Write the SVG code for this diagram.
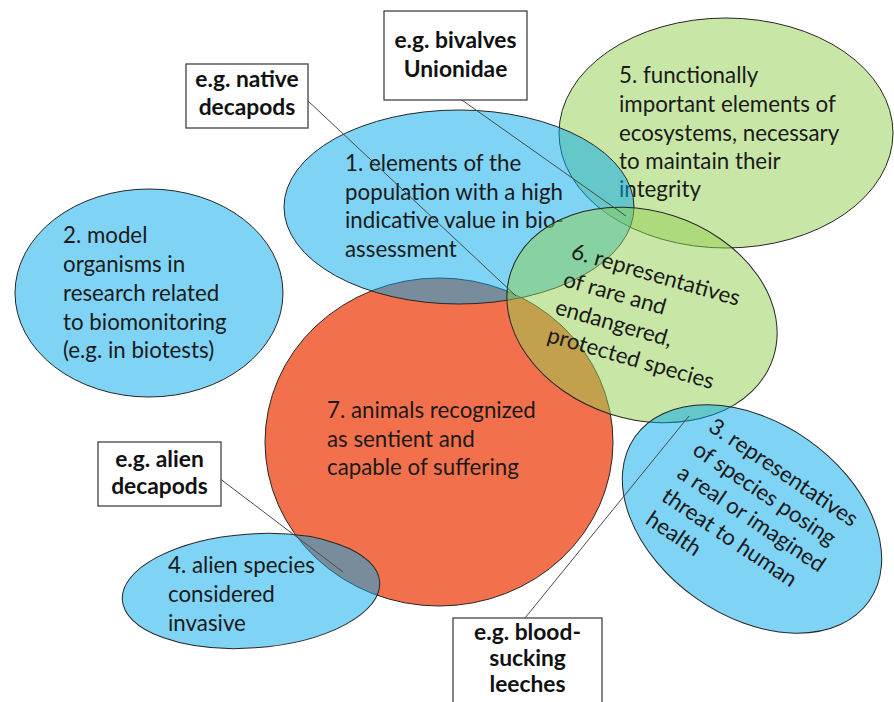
<svg xmlns="http://www.w3.org/2000/svg" width="894" height="702" viewBox="0 0 894 702">
  <style>
    .lbl { font-family: Lato, "Open Sans", "Liberation Sans", sans-serif; font-size: 22.3px; fill: #1a1a1a; }
    .box { font-family: Lato, "Open Sans", "Liberation Sans", sans-serif; font-size: 22.8px; font-weight: bold; fill: #111; text-anchor: middle; }
    .blue { fill: #00a8ec; fill-opacity: 0.5; stroke: #262626; stroke-width: 1; }
    .green { fill: #92d050; fill-opacity: 0.5; stroke: #262626; stroke-width: 1; }
    .red { fill: #f3704c; stroke: #262626; stroke-width: 1; }
    .note { fill: #ffffff; stroke: #333333; stroke-width: 1.2; }
    .link { stroke: #4a4a4a; stroke-width: 1; fill: none; }
  </style>
  <rect width="894" height="702" fill="#ffffff"/>

  <!-- 7: sentient animals -->
  <g id="set7">
    <ellipse class="red" cx="439" cy="442" rx="174" ry="164"/>
    <text class="lbl"><tspan x="327" y="418">7. animals recognized</tspan><tspan x="327" y="447">as sentient and</tspan><tspan x="327" y="475">capable of suffering</tspan></text>
  </g>

  <!-- 2: model organisms -->
  <g id="set2">
    <ellipse class="blue" cx="149" cy="293" rx="134" ry="104"/>
    <text class="lbl"><tspan x="63" y="243">2. model</tspan><tspan x="63" y="272">organisms in</tspan><tspan x="63" y="301">research related</tspan><tspan x="63" y="330">to biomonitoring</tspan><tspan x="63" y="358">(e.g. in biotests)</tspan></text>
  </g>

  <!-- 5: functionally important elements -->
  <g id="set5">
    <ellipse class="green" cx="726" cy="133" rx="167" ry="115"/>
    <text class="lbl"><tspan x="619" y="83">5. functionally</tspan><tspan x="619" y="112">important elements of</tspan><tspan x="619" y="141">ecosystems, necessary</tspan><tspan x="619" y="169">to maintain their</tspan><tspan x="619" y="197">integrity</tspan></text>
  </g>

  <!-- 1: indicative value -->
  <g id="set1">
    <ellipse class="blue" cx="459" cy="207" rx="175" ry="97"/>
    <text class="lbl"><tspan x="345" y="171">1. elements of the</tspan><tspan x="345" y="200">population with a high</tspan><tspan x="345" y="228">indicative value in bio-</tspan><tspan x="345" y="257">assessment</tspan></text>
  </g>

  <!-- 6: rare and protected species -->
  <g id="set6">
    <ellipse class="green" cx="0" cy="0" rx="138" ry="104" transform="translate(642 315) rotate(18)"/>
    <text class="lbl" transform="translate(570 258) rotate(16)"><tspan x="0" y="0">6. representatives</tspan><tspan x="0" y="29">of rare and</tspan><tspan x="0" y="58">endangered,</tspan><tspan x="0" y="87">protected species</tspan></text>
  </g>

  <!-- 3: threat to human health -->
  <g id="set3">
    <ellipse class="blue" cx="0" cy="0" rx="143" ry="97" transform="translate(752 519) rotate(35)"/>
    <text class="lbl" transform="translate(707 430) rotate(34)"><tspan x="0" y="0">3. representatives</tspan><tspan x="0" y="28">of species posing</tspan><tspan x="0" y="56">a real or imagined</tspan><tspan x="0" y="84">threat to human</tspan><tspan x="0" y="112">health</tspan></text>
  </g>

  <!-- 4: invasive alien species -->
  <g id="set4">
    <ellipse class="blue" cx="0" cy="0" rx="129" ry="57" transform="translate(251 591) rotate(-4)"/>
    <text class="lbl"><tspan x="168" y="573">4. alien species</tspan><tspan x="168" y="602">considered</tspan><tspan x="168" y="631">invasive</tspan></text>
  </g>

  <!-- leader lines from example boxes -->
  <g id="connectors">
    <line class="link" x1="307" y1="100" x2="516" y2="296"/>
    <line class="link" x1="459" y1="98" x2="626" y2="216"/>
    <line class="link" x1="219" y1="478" x2="343" y2="572"/>
    <line class="link" x1="525" y1="618" x2="689" y2="416"/>
  </g>

  <g id="ex-native">
    <rect class="note" x="186" y="64" width="122" height="64"/>
    <text class="box"><tspan x="247" y="87">e.g. native</tspan><tspan x="247" y="115">decapods</tspan></text>
  </g>
  <g id="ex-bivalves">
    <rect class="note" x="384" y="11" width="143" height="89"/>
    <text class="box"><tspan x="455.5" y="48">e.g. bivalves</tspan><tspan x="455.5" y="77">Unionidae</tspan></text>
  </g>
  <g id="ex-alien">
    <rect class="note" x="98" y="442" width="123" height="64"/>
    <text class="box"><tspan x="159.5" y="467">e.g. alien</tspan><tspan x="159.5" y="494">decapods</tspan></text>
  </g>
  <g id="ex-leeches">
    <rect class="note" x="453" y="618" width="149" height="100"/>
    <text class="box"><tspan x="527.5" y="640">e.g. blood-</tspan><tspan x="527.5" y="666">sucking</tspan><tspan x="527.5" y="692">leeches</tspan></text>
  </g>
</svg>
